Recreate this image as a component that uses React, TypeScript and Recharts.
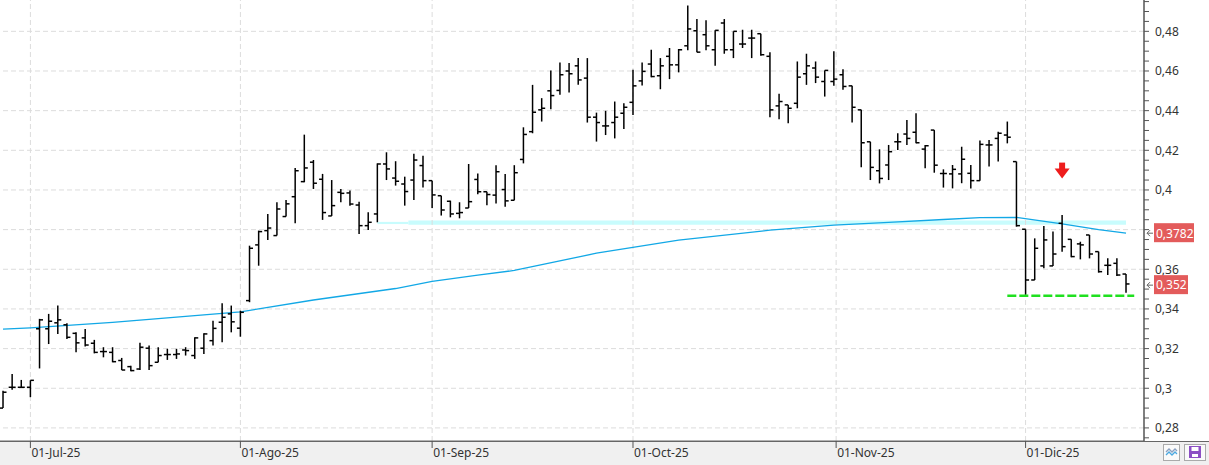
// Daily OHLC chart with moving average, support band and axis price tags

import {
  ComposedChart,
  Scatter,
  ErrorBar,
  Line,
  XAxis,
  YAxis,
  ReferenceLine,
  ReferenceArea,
  ReferenceDot,
} from "recharts";

// one entry per session, 26-Jun-25 .. 16-Dic-25
const opens = [
  0.29, 0.3005, 0.3005, 0.3005, 0.33, 0.33, 0.333, 0.332, 0.3277, 0.3254,
  0.3227, 0.3185, 0.3181, 0.314, 0.3109, 0.3097, 0.3202, 0.3131, 0.317, 0.317,
  0.3193, 0.3165, 0.3202, 0.324, 0.3333, 0.3375, 0.3303, 0.3442, 0.3723, 0.3795,
  0.377, 0.3866, 0.3966, 0.4042, 0.414, 0.4054, 0.3869, 0.3988, 0.3985, 0.3924,
  0.382, 0.3879, 0.4131, 0.406, 0.403, 0.405, 0.4123, 0.4047, 0.3971, 0.3943,
  0.3882, 0.3909, 0.4053, 0.3991, 0.3974, 0.4002, 0.3948, 0.4154, 0.4294, 0.4404,
  0.45, 0.4502, 0.46, 0.4626, 0.4564, 0.4367, 0.4323, 0.434, 0.4387, 0.4442,
  0.455, 0.4635, 0.4576, 0.4674, 0.4631, 0.4727, 0.4803, 0.4783, 0.4707, 0.4842,
  0.4707, 0.4736, 0.4766, 0.4788, 0.4674, 0.4424, 0.4429, 0.4437, 0.4586, 0.4615,
  0.4547, 0.4547, 0.4581, 0.4525, 0.4404, 0.4243, 0.4097, 0.4126, 0.4243, 0.4282,
  0.4291, 0.4206, 0.4302, 0.4083, 0.4081, 0.4081, 0.4084, 0.4047, 0.4227, 0.426,
  0.4277, 0.4143, 0.3802, 0.3546, 0.3617, 0.3617, 0.3832, 0.3751, 0.3728, 0.3773,
  0.3689, 0.362, 0.363, 0.3576,
];
const highs = [
  0.2988, 0.3072, 0.3042, 0.304, 0.335, 0.3375, 0.3417, 0.3328, 0.3282, 0.3299,
  0.3244, 0.3207, 0.3207, 0.3153, 0.3114, 0.3229, 0.3215, 0.3207, 0.3199, 0.3199,
  0.3207, 0.3257, 0.3277, 0.3341, 0.3429, 0.3417, 0.3391, 0.3719, 0.3795, 0.3879,
  0.3938, 0.395, 0.4111, 0.4279, 0.4151, 0.4081, 0.405, 0.4005, 0.3997, 0.3941,
  0.3887, 0.4134, 0.419, 0.4145, 0.4067, 0.4182, 0.4173, 0.4047, 0.3971, 0.3946,
  0.3938, 0.4131, 0.4083, 0.3991, 0.4125, 0.408, 0.4125, 0.4316, 0.453, 0.4463,
  0.4603, 0.4643, 0.464, 0.4665, 0.4665, 0.439, 0.4399, 0.4446, 0.4437, 0.4606,
  0.4643, 0.4707, 0.4665, 0.4716, 0.4711, 0.493, 0.4862, 0.4856, 0.4805, 0.4862,
  0.48, 0.4808, 0.4808, 0.4788, 0.4695, 0.4485, 0.4429, 0.4648, 0.4687, 0.4648,
  0.4603, 0.4699, 0.4609, 0.4525, 0.4404, 0.4243, 0.4205, 0.4227, 0.4286, 0.4353,
  0.4387, 0.4227, 0.4302, 0.4104, 0.4126, 0.4218, 0.4126, 0.4249, 0.4252, 0.4294,
  0.4345, 0.4143, 0.3802, 0.3756, 0.3818, 0.379, 0.3874, 0.3751, 0.3739, 0.3773,
  0.3689, 0.3655, 0.3655, 0.3576,
];
const lows = [
  0.29, 0.2992, 0.3002, 0.2955, 0.31, 0.3223, 0.3274, 0.3249, 0.3181, 0.321,
  0.3176, 0.3156, 0.3131, 0.3092, 0.3086, 0.3092, 0.3092, 0.3131, 0.3143, 0.3148,
  0.3165, 0.3148, 0.3173, 0.3215, 0.3232, 0.3282, 0.326, 0.3434, 0.3618, 0.3748,
  0.377, 0.3866, 0.3832, 0.4039, 0.4005, 0.3849, 0.3869, 0.3938, 0.3921, 0.3778,
  0.3798, 0.3837, 0.405, 0.4022, 0.3921, 0.395, 0.4013, 0.3909, 0.3871, 0.3862,
  0.3857, 0.3909, 0.3979, 0.3923, 0.3932, 0.3915, 0.3948, 0.4134, 0.4286, 0.4345,
  0.4407, 0.448, 0.4491, 0.453, 0.434, 0.4244, 0.4277, 0.426, 0.4308, 0.4378,
  0.4527, 0.4569, 0.4508, 0.4559, 0.4593, 0.4704, 0.4694, 0.4704, 0.4626, 0.4687,
  0.4665, 0.4716, 0.4665, 0.4677, 0.4367, 0.4357, 0.4336, 0.4412, 0.453, 0.4539,
  0.4471, 0.4525, 0.4505, 0.434, 0.4114, 0.405, 0.4033, 0.405, 0.4201, 0.4227,
  0.4235, 0.4109, 0.4087, 0.4012, 0.4008, 0.4034, 0.4008, 0.4047, 0.4118, 0.4143,
  0.4235, 0.3815, 0.3471, 0.3546, 0.3605, 0.3617, 0.3689, 0.3661, 0.365, 0.3655,
  0.3583, 0.3571, 0.3566, 0.3482,
];
const closes = [
  0.298, 0.3005, 0.3005, 0.304, 0.3345, 0.3338, 0.3345, 0.3257, 0.3229, 0.3218,
  0.3181, 0.3185, 0.3134, 0.3092, 0.3089, 0.3207, 0.3114, 0.3165, 0.317, 0.3173,
  0.319, 0.3254, 0.3274, 0.3302, 0.3358, 0.3335, 0.3383, 0.3706, 0.379, 0.3808,
  0.3904, 0.393, 0.4097, 0.4111, 0.4034, 0.3886, 0.3921, 0.3983, 0.3929, 0.382,
  0.3837, 0.4131, 0.4106, 0.4044, 0.3992, 0.4151, 0.4047, 0.3975, 0.3899, 0.3879,
  0.3886, 0.3941, 0.3991, 0.3977, 0.4092, 0.3945, 0.4087, 0.428, 0.4392, 0.4412,
  0.4476, 0.4581, 0.4586, 0.4555, 0.4367, 0.434, 0.4323, 0.4367, 0.4417, 0.4525,
  0.4598, 0.4572, 0.4626, 0.4631, 0.4707, 0.4812, 0.4695, 0.4727, 0.4805, 0.4707,
  0.48, 0.4736, 0.4766, 0.4682, 0.4404, 0.4446, 0.4412, 0.4569, 0.4626, 0.4569,
  0.4603, 0.4559, 0.4522, 0.4417, 0.4238, 0.4114, 0.4058, 0.4193, 0.4243, 0.426,
  0.4238, 0.4223, 0.4125, 0.4083, 0.4104, 0.4155, 0.4047, 0.423, 0.4227, 0.4286,
  0.4266, 0.382, 0.3546, 0.3706, 0.3748, 0.3677, 0.3714, 0.3664, 0.3723, 0.3677,
  0.3588, 0.362, 0.3571, 0.3526,
];

// moving average, read at a few sessions
const maIndex = [0, 3, 12, 20, 26, 34, 43, 47, 52, 56, 65, 74, 84, 91, 97, 103, 107, 111, 116, 120, 123];
const maValues = [
  0.3298, 0.3305, 0.3332, 0.3362, 0.3385, 0.3445, 0.3503, 0.3539, 0.357, 0.3594,
  0.3681, 0.3747, 0.3797, 0.3823, 0.3837, 0.3851, 0.386, 0.3862, 0.3829, 0.38, 0.3782,
];

const monthTicks = [3, 26, 47, 69, 91.25, 112];
const monthLabels = ["01-Jul-25", "01-Ago-25", "01-Sep-25", "01-Oct-25", "01-Nov-25", "01-Dic-25"];

const gridLevels = [0.28, 0.3, 0.32, 0.34, 0.36, 0.38, 0.4, 0.42, 0.44, 0.46, 0.48];
const MA_LAST = 0.3782;
const CLOSE_LAST = 0.352;
const SUPPORT = 0.3466;

const data = opens.map((o, i) => {
  const k = maIndex.indexOf(i);
  return {
    i,
    open: o,
    close: closes[i],
    range: [o - lows[i], highs[i] - o],
    ma: k >= 0 ? maValues[k] : null,
  };
});

const yTicks: number[] = [];
for (let k = 55; k <= 99; k++) yTicks.push(Math.round(k * 5) / 1000);
yTicks.push(MA_LAST, CLOSE_LAST);

const fmt = (v: number) => String(+v.toFixed(4)).replace(".", ",");
const FONT = "'Noto Sans', sans-serif";

const YTick = (props: any) => {
  const { x, y, payload } = props;
  const v = payload.value;
  if (v === MA_LAST || v === CLOSE_LAST) {
    const w = v === MA_LAST ? 40 : 34;
    return (
      <g>
        <path
          d={`M${x + 9} ${y} L${x + 3} ${y} M${x + 6} ${y - 3} L${x + 3} ${y} L${x + 6} ${y + 3}`}
          stroke="#666"
          fill="none"
        />
        <rect x={x + 10} y={y - 10} width={w} height={19} fill="#e35b5b" />
        <text x={x + 12} y={y} dy="0.36em" fill="#fff" fontSize={12} fontFamily={FONT}>
          {fmt(v)}
        </text>
      </g>
    );
  }
  const major = Math.abs(v * 50 - Math.round(v * 50)) < 1e-6;
  // a price tag hides the level label it sits on
  const hidden = Math.abs(v - MA_LAST) < 0.005 || Math.abs(v - CLOSE_LAST) < 0.005;
  return (
    <g>
      <line x1={x} y1={y} x2={x + 5} y2={y} stroke="#555" />
      {major && !hidden && (
        <text x={x + 11} y={y} dy="0.36em" fill="#333" fontSize={12} fontFamily={FONT}>
          {fmt(v)}
        </text>
      )}
    </g>
  );
};

const XTick = (props: any) => {
  const { x, y, index } = props;
  return (
    <g>
      <line x1={x} y1={y} x2={x} y2={y + 7} stroke="#555" />
      <text x={x + 1} y={y + 16} fill="#333" fontSize={12} fontFamily={FONT}>
        {monthLabels[index]}
      </text>
    </g>
  );
};

const OpenTick = (p: any) => (
  <line x1={p.cx - 3.5} y1={p.cy} x2={p.cx} y2={p.cy} stroke="#000" strokeWidth={1.5} />
);
const CloseTick = (p: any) => (
  <line x1={p.cx} y1={p.cy} x2={p.cx + 3.5} y2={p.cy} stroke="#000" strokeWidth={1.5} />
);

const DownArrow = (p: any) => {
  const { cx, cy } = p;
  return (
    <g fill="#ee1c1c">
      <rect x={cx - 3} y={cy} width={6} height={7} />
      <path d={`M${cx - 7.5} ${cy + 6} L${cx + 7.5} ${cy + 6} L${cx} ${cy + 16} Z`} />
    </g>
  );
};

const App = () => {
  return (
    <div style={{ position: "fixed", left: 0, top: 0, width: 1209, height: 465, background: "#fff" }}>
      <div
        style={{
          position: "absolute",
          left: 0,
          top: 441,
          width: 1209,
          height: 24,
          background: "#f0f0f0",
          borderTop: "1px solid #666",
          boxSizing: "border-box",
        }}
      >
        <div
          style={{
            position: "absolute",
            left: 1163,
            top: 2,
            width: 15,
            height: 15,
            border: "1px solid #aaa",
            background: "#fafafa",
          }}
        >
          <svg width={15} height={15}>
            <path d="M2 7 L5 4 L8 7 L11 4 L13 6" stroke="#8aa0c0" fill="none" strokeWidth={1.3} />
            <path d="M2 10 L5 7 L8 10 L11 7 L13 9" stroke="#4aa8e0" fill="none" strokeWidth={1.3} />
          </svg>
        </div>
        <div
          style={{
            position: "absolute",
            left: 1184,
            top: 2,
            width: 20,
            height: 15,
            border: "1px solid #aaa",
            background: "#fafafa",
          }}
        >
          <svg width={20} height={15}>
            <rect x={4} y={1} width={12} height={12} fill="#8c4fc4" />
            <rect x={6.5} y={2} width={7} height={4} fill="#fff" />
            <rect x={7} y={9} width={6} height={3} fill="#fff" />
          </svg>
        </div>
      </div>
      <div style={{ position: "relative" }}>
        <ComposedChart
          width={1209}
          height={465}
          data={data}
          margin={{ top: 0, right: 0, bottom: 0, left: 0 }}
        >
          <XAxis
            dataKey="i"
            type="number"
            domain={[-0.33, 124.97]}
            allowDataOverflow
            ticks={monthTicks}
            interval={0}
            height={24}
            tickSize={0}
            tickMargin={0}
            tickLine={false}
            axisLine={{ stroke: "#666", strokeWidth: 1 }}
            tick={<XTick />}
          />
          <YAxis
            orientation="right"
            type="number"
            domain={[0.2734, 0.4958]}
            allowDataOverflow
            ticks={yTicks}
            interval={0}
            width={65}
            tickSize={0}
            tickMargin={0}
            tickLine={false}
            axisLine={{ stroke: "#555", strokeWidth: 1.5 }}
            tick={<YTick />}
          />

          {gridLevels.map((v) => (
            <ReferenceLine key={"h" + v} y={v} stroke="#dcdcdc" strokeDasharray="5 3" />
          ))}
          {monthTicks.map((m) => (
            <ReferenceLine key={"v" + m} x={m} stroke="#dcdcdc" strokeDasharray="5 3" />
          ))}

          {/* support zone */}
          <ReferenceArea x1={41} x2={44.4} y1={0.3828} y2={0.3839} fill="#c8fcfd" fillOpacity={1} stroke="none" />
          <ReferenceArea x1={44.4} x2={123} y1={0.3824} y2={0.3846} fill="#c8fcfd" fillOpacity={1} stroke="none" />

          <Line
            type="linear"
            dataKey="ma"
            connectNulls
            dot={false}
            activeDot={false}
            stroke="#12a8e6"
            strokeWidth={1.3}
            isAnimationActive={false}
          />

          <Scatter dataKey="open" shape={<OpenTick />} isAnimationActive={false}>
            <ErrorBar dataKey="range" direction="y" width={0} stroke="#000" strokeWidth={1.5} isAnimationActive={false} />
          </Scatter>
          <Scatter dataKey="close" shape={<CloseTick />} isAnimationActive={false} />

          <ReferenceLine
            segment={[
              { x: 110, y: SUPPORT },
              { x: 123.9, y: SUPPORT },
            ]}
            stroke="#1fe01f"
            strokeWidth={2.5}
            strokeDasharray="9 3"
          />
          <ReferenceDot x={116} y={0.4138} ifOverflow="visible" shape={<DownArrow />} />
        </ComposedChart>
      </div>
    </div>
  );
};

export default App;
